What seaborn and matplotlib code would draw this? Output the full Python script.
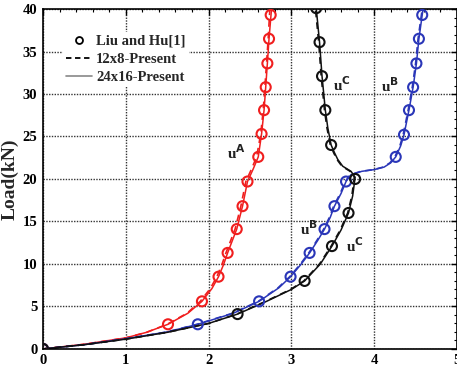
import matplotlib
matplotlib.use("Agg")
import matplotlib.pyplot as plt
import seaborn as sns
from matplotlib.ticker import MultipleLocator
from matplotlib.lines import Line2D

# ---- reference markers (Liu and Hu[1]) ----
a_ref_x = [0, 1.51, 1.92, 2.12, 2.23, 2.34, 2.41, 2.47, 2.60, 2.64, 2.67, 2.69, 2.71, 2.73, 2.75]
a_ref_y = [0, 2.9, 5.6, 8.5, 11.3, 14.1, 16.8, 19.7, 22.6, 25.3, 28.1, 30.8, 33.6, 36.5, 39.3]
b_ref_x = [0, 1.87, 2.61, 2.99, 3.22, 3.40, 3.52, 3.66, 4.26, 4.36, 4.42, 4.47, 4.51, 4.54, 4.58]
b_ref_y = [0, 2.9, 5.6, 8.5, 11.3, 14.1, 16.8, 19.7, 22.6, 25.2, 28.1, 30.8, 33.6, 36.5, 39.3]
c_ref_x = [0, 2.35, 3.16, 3.49, 3.69, 3.77, 3.48, 3.41, 3.37, 3.34, 3.30]
c_ref_y = [0, 4.1, 8.0, 12.1, 16.0, 20.0, 24.0, 28.1, 32.1, 36.1, 40.1]

# ---- 24x16-Present (solid) ----
a_fine_x = [0, 0.5, 1.0, 1.25, 1.51, 1.75, 1.92, 2.04, 2.12, 2.18, 2.23, 2.34, 2.41, 2.47, 2.54, 2.60,
            2.64, 2.67, 2.69, 2.71, 2.73, 2.76]
a_fine_y = [0, 0.55, 1.3, 1.95, 2.9, 4.2, 5.6, 7.1, 8.5, 9.9, 11.3, 14.1, 16.8, 19.7, 21.2, 22.6,
            25.3, 28.1, 30.8, 33.6, 36.5, 40.0]
b_fine_x = [0, 0.5, 1.0, 1.5, 1.87, 2.3, 2.61, 2.85, 2.99, 3.12, 3.22, 3.32, 3.40, 3.47, 3.52, 3.60,
            3.66, 3.72, 3.85, 4.00, 4.12, 4.20, 4.26, 4.32, 4.36, 4.42, 4.47, 4.51, 4.54, 4.59]
b_fine_y = [0, 0.5, 1.2, 2.0, 2.9, 4.2, 5.6, 7.2, 8.5, 10.0, 11.3, 12.8, 14.1, 15.5, 16.8, 18.3,
            19.7, 20.5, 20.9, 21.1, 21.4, 21.9, 22.6, 23.9, 25.2, 28.1, 30.8, 33.6, 36.5, 40.0]
c_fine_x = [0, 0.5, 1.0, 1.5, 2.0, 2.35, 2.7, 3.0, 3.16, 3.35, 3.49, 3.60, 3.69, 3.74, 3.77,
            3.72, 3.62, 3.56, 3.52, 3.48, 3.44, 3.41, 3.37, 3.34, 3.30]
c_fine_y = [0, 0.5, 1.15, 1.95, 3.0, 4.1, 5.6, 7.0, 8.0, 10.0, 12.1, 14.0, 16.0, 18.0, 20.2,
            20.9, 21.5, 22.3, 23.1, 24.0, 26.0, 28.1, 32.1, 36.1, 40.1]

# ---- 12x8-Present (dashed) ----
a_coarse_x = [0, 0.5, 1.0, 1.25, 1.50, 1.74, 1.90, 2.02, 2.10, 2.16, 2.21, 2.32, 2.39, 2.45, 2.52,
              2.58, 2.63, 2.66, 2.68, 2.70, 2.72, 2.74]
a_coarse_y = [0, 0.55, 1.3, 1.95, 2.9, 4.2, 5.6, 7.1, 8.5, 9.9, 11.3, 14.1, 16.8, 19.7, 21.2,
              22.6, 25.3, 28.1, 30.8, 33.6, 36.5, 40.0]
b_coarse_x = [0, 0.5, 1.0, 1.5, 1.86, 2.29, 2.60, 2.84, 2.98, 3.11, 3.21, 3.31, 3.39, 3.46, 3.51,
              3.59, 3.65, 3.71, 3.84, 3.99, 4.11, 4.19, 4.25, 4.31, 4.35, 4.41, 4.46, 4.50, 4.53, 4.58]
b_coarse_y = [0, 0.5, 1.2, 2.0, 2.9, 4.2, 5.6, 7.2, 8.5, 10.0, 11.3, 12.8, 14.1, 15.5, 16.8,
              18.3, 19.7, 20.5, 20.9, 21.1, 21.4, 21.9, 22.6, 23.9, 25.2, 28.1, 30.8, 33.6, 36.5, 40.0]
c_coarse_x = [0, 0.5, 1.0, 1.5, 2.0, 2.34, 2.69, 2.99, 3.15, 3.34, 3.48, 3.59, 3.68, 3.73, 3.76,
              3.71, 3.61, 3.55, 3.51, 3.47, 3.43, 3.40, 3.36, 3.33, 3.29]
c_coarse_y = [0, 0.5, 1.15, 1.95, 3.0, 4.1, 5.6, 7.0, 8.0, 10.0, 12.1, 14.0, 16.0, 18.0, 20.2,
              20.9, 21.5, 22.3, 23.1, 24.0, 26.0, 28.1, 32.1, 36.1, 40.1]

# ---- annotations ----
label_text = ["A", "C", "B", "B", "C"]
label_x = [2.22, 3.50, 4.08, 3.10, 3.66]
label_y = [22.3, 30.3, 30.2, 13.4, 11.4]

RED, BLUE, BLACK = "#f01e1e", "#2a36b8", "#111111"

sns.set_style("white")
plt.rcParams["font.family"] = ["Liberation Serif", "DejaVu Serif"]
plt.rcParams["font.weight"] = "bold"

fig = plt.figure(figsize=(4.57, 3.76), dpi=100)
ax = fig.add_axes([0.094, 0.072, 0.906, 0.904])

series = [
    (a_fine_x, a_fine_y, a_coarse_x, a_coarse_y, a_ref_x, a_ref_y, RED),
    (b_fine_x, b_fine_y, b_coarse_x, b_coarse_y, b_ref_x, b_ref_y, BLUE),
    (c_fine_x, c_fine_y, c_coarse_x, c_coarse_y, c_ref_x, c_ref_y, BLACK),
]
for fx, fy, cx, cy, rx, ry, col in series:
    sns.lineplot(x=fx, y=fy, sort=False, estimator=None, color=col, lw=1.1, ax=ax)
    sns.lineplot(x=cx, y=cy, sort=False, estimator=None, color=col, lw=1.2, ax=ax)
    ax.lines[-1].set_linestyle((0, (4, 3)))
    sns.scatterplot(x=rx, y=ry, marker="o", s=52, facecolors="none",
                    edgecolor=col, linewidth=1.5, ax=ax, zorder=5)

for t, x, y in zip(label_text, label_x, label_y):
    ax.text(x, y, r"u$^{\mathbf{%s}}$" % t, fontsize=11, fontweight="bold",
            color="#222222")

ax.set_xlim(0, 5)
ax.set_ylim(0, 40)
ax.xaxis.set_major_locator(MultipleLocator(1))
ax.xaxis.set_minor_locator(MultipleLocator(0.2))
ax.yaxis.set_major_locator(MultipleLocator(5))
ax.yaxis.set_minor_locator(MultipleLocator(1))
ax.tick_params(which="both", direction="in", top=True, right=True, colors="black")
ax.tick_params(which="major", length=4, width=1, labelsize=10.5, pad=4)
ax.tick_params(which="minor", length=2.5, width=0.8)
for lab in ax.get_xticklabels() + ax.get_yticklabels():
    lab.set_fontweight("bold")
ax.grid(True, which="major", color="#333333", linestyle=(0, (1, 1)), linewidth=1.0)
for s in ax.spines.values():
    s.set_color("black")
    s.set_linewidth(1.2)
ax.set_ylabel("Load(kN)", fontsize=14, fontweight="bold", labelpad=3)
ax.set_xlabel("")

handles = [
    Line2D([], [], color="black", marker="o", markerfacecolor="none", markersize=5,
           markeredgewidth=1.3, linestyle="none"),
    Line2D([], [], color="black", linestyle=(0, (3, 2)), lw=1.3),
    Line2D([], [], color="#888888", linestyle="-", lw=1.2),
]
leg = ax.legend(handles, ["Liu and Hu[1]", "12x8-Present", "24x16-Present"],
                loc="upper left", bbox_to_anchor=(0.03, 0.955), frameon=True,
                fontsize=10.5, handlelength=1.8, handletextpad=0.3,
                labelspacing=0.35, borderpad=0.2)
leg.get_frame().set_edgecolor("none")
leg.get_frame().set_facecolor("white")
leg.get_frame().set_alpha(1)
for t in leg.get_texts():
    t.set_fontweight("bold")

fig.savefig("out.png", dpi=100)
